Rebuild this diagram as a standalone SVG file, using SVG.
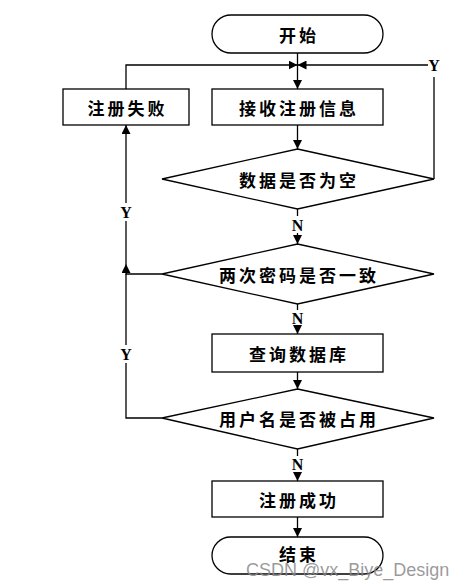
<svg xmlns="http://www.w3.org/2000/svg" width="465" height="588" viewBox="0 0 465 588">
<style>
.s{fill:#fff;stroke:#000;stroke-width:1.3}
.t{font-family:"Noto Sans CJK SC","Noto Sans CJK JP",sans-serif;font-size:17px;font-weight:bold;letter-spacing:3px;text-anchor:middle;dominant-baseline:central;fill:#000}
.l{font-family:"Liberation Serif",serif;font-size:16px;font-weight:bold;text-anchor:middle;dominant-baseline:central;fill:#000}
.c{fill:none;stroke:#000;stroke-width:1.3}
</style>
<defs>
<marker id="a" markerUnits="userSpaceOnUse" markerWidth="9" markerHeight="9" viewBox="0 0 9 9" refX="9" refY="4.5" orient="auto">
<path d="M0,0 L9,4.5 L0,9 z" fill="#000"/>
</marker>
</defs>
<rect width="465" height="588" fill="#fff"/>
<g id="connectors">
<path class="c" d="M297.5,53 V89" marker-end="url(#a)"/>
<path class="c" d="M126,89 V65 H297.5" marker-end="url(#a)"/>
<path class="c" d="M434,179 V77"/>
<path class="c" d="M428,65 H297.5" marker-end="url(#a)"/>
<path class="c" d="M297.5,125 V149" marker-end="url(#a)"/>
<path class="c" d="M297.5,209 V216"/>
<path class="c" d="M297.5,233 V244" marker-end="url(#a)"/>
<path class="c" d="M162,274 H126 V264" marker-end="url(#a)"/>
<path class="c" d="M126,264 V221"/>
<path class="c" d="M126,203 V125" marker-end="url(#a)"/>
<path class="c" d="M162,418 H126 V363"/>
<path class="c" d="M126,345 V274"/>
<path class="c" d="M297.5,304 V310"/>
<path class="c" d="M297.5,326 V334" marker-end="url(#a)"/>
<path class="c" d="M297.5,372 V389" marker-end="url(#a)"/>
<path class="c" d="M297.5,449 V456"/>
<path class="c" d="M297.5,472 V481" marker-end="url(#a)"/>
<path class="c" d="M297.5,517 V537" marker-end="url(#a)"/>
<text class="l" x="434" y="65">Y</text>
<text class="l" x="297.5" y="225">N</text>
<text class="l" x="126" y="212">Y</text>
<text class="l" x="297.5" y="318">N</text>
<text class="l" x="126" y="354">Y</text>
<text class="l" x="297.5" y="464">N</text>
</g>
<g id="start">
<rect class="s" x="212" y="15" width="171" height="38" rx="19" ry="19"/>
<text class="t" x="299" y="34">开始</text>
</g>
<g id="fail">
<rect class="s" x="63" y="89" width="126" height="36"/>
<text class="t" x="127.5" y="107">注册失败</text>
</g>
<g id="receive">
<rect class="s" x="212" y="89" width="171" height="36"/>
<text class="t" x="299" y="107">接收注册信息</text>
</g>
<g id="empty">
<polygon class="s" points="297.5,149 434,179 297.5,209 162,179"/>
<text class="t" x="299" y="179">数据是否为空</text>
</g>
<g id="match">
<polygon class="s" points="297.5,244 434,274 297.5,304 162,274"/>
<text class="t" x="299" y="274">两次密码是否一致</text>
</g>
<g id="query">
<rect class="s" x="212" y="334" width="171" height="38"/>
<text class="t" x="299" y="353">查询数据库</text>
</g>
<g id="taken">
<polygon class="s" points="297.5,389 434,418 297.5,449 162,418"/>
<text class="t" x="299" y="418">用户名是否被占用</text>
</g>
<g id="success">
<rect class="s" x="212" y="481" width="171" height="36"/>
<text class="t" x="299" y="499">注册成功</text>
</g>
<g id="end">
<rect class="s" x="212" y="537" width="171" height="37" rx="18.5" ry="18.5"/>
<text class="t" x="299" y="553">结束</text>
</g>
<text x="246" y="576" font-family="Liberation Sans,sans-serif" font-size="18" fill="#888" fill-opacity="0.85">CSDN @vx_Biye_Design</text>
</svg>
